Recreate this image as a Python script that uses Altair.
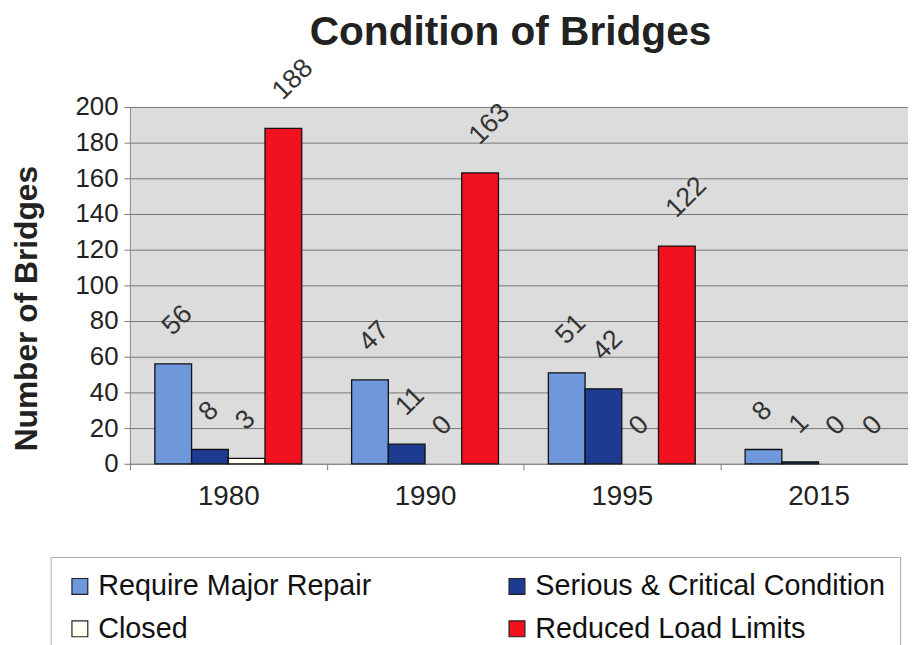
import altair as alt
import pandas as pd

chart_title = "Condition of Bridges"
years = ["1980", "1990", "1995", "2015"]
series = ["Require Major Repair", "Serious & Critical Condition", "Closed", "Reduced Load Limits"]
require_major = [56, 47, 51, 8]
serious_critical = [8, 11, 42, 1]
closed = [3, 0, 0, 0]
reduced_load = [188, 163, 122, 0]
colors = ["#6f97dc", "#1d3b91", "#fffff2", "#f2121f"]
y_ticks = list(range(0, 201, 20))

rows = []
for s, vals in zip(series, [require_major, serious_critical, closed, reduced_load]):
    for yr, v in zip(years, vals):
        rows.append({"Year": yr, "Series": s, "Value": v})
df = pd.DataFrame(rows)

FONT = "Liberation Sans"

x_enc = alt.X(
    "Year:N", sort=years,
    scale=alt.Scale(range=[0, 794], paddingInner=0, paddingOuter=0),
    axis=alt.Axis(title=None, labelAngle=0, labelFontSize=28, labelFont=FONT,
                  labelColor="#222", labelPadding=13, tickBand="extent",
                  tickSize=6, tickColor="#777", domainColor="#888", grid=False),
)
xoff_enc = alt.XOffset(
    "Series:N", sort=series,
    scale=alt.Scale(domain=series, paddingInner=0, paddingOuter=0.68),
)
y_enc = alt.Y(
    "Value:Q",
    scale=alt.Scale(domain=[0, 200], nice=False),
    axis=alt.Axis(values=y_ticks, title="Number of Bridges", titleFontSize=32,
                  titleFont=FONT, titleFontWeight="bold", titleColor="#222",
                  titleAngle=270, titleX=-94, titleY=203, titleAlign="center",
                  titleBaseline="alphabetic",
                  labelFontSize=26, labelFont=FONT, labelColor="#222",
                  labelPadding=6, tickSize=6, tickColor="#777",
                  gridColor="#767676", gridWidth=1, domainColor="#888"),
)

bars = alt.Chart(df).mark_bar(stroke="#111111", strokeWidth=1.3).encode(
    x=x_enc, xOffset=xoff_enc, y=y_enc,
    color=alt.Color(
        "Series:N", sort=series,
        scale=alt.Scale(domain=series, range=colors),
        legend=alt.Legend(
            title=None, orient="none", legendX=-80, legendY=454,
            direction="horizontal", columns=2, columnPadding=132, rowPadding=13,
            labelFontSize=29, labelFont=FONT, labelColor="#111",
            labelLimit=600, labelOffset=4,
            symbolType="square", symbolSize=256,
            symbolStrokeColor="#222", symbolStrokeWidth=1.2,
            padding=15, strokeColor="#aaaaaa", fillColor="white",
        ),
    ),
).transform_filter("datum.Value > 0")

labels = alt.Chart(df).mark_text(
    align="left", baseline="middle", angle=315, dx=19, dy=-28,
    fontSize=27, font=FONT, color="#333",
).encode(
    x=x_enc, xOffset=xoff_enc, y=y_enc,
    text=alt.Text("Value:Q"),
)

title_layer = alt.Chart(pd.DataFrame({"t": [chart_title]})).mark_text(
    align="center", baseline="alphabetic", fontSize=41, font=FONT,
    fontWeight="bold", color="#222",
).encode(text="t:N", x=alt.value(384), y=alt.value(-62))

chart = alt.layer(bars, labels, title_layer).properties(
    width=785, height=360,
    autosize=alt.AutoSizeParams(type="none"),
    padding={"left": 123, "top": 97, "right": 0, "bottom": 180},
).configure_view(fill="#dcdcdc", stroke=None)

chart.save("out.html", embed_options={"renderer": "svg", "actions": False})
